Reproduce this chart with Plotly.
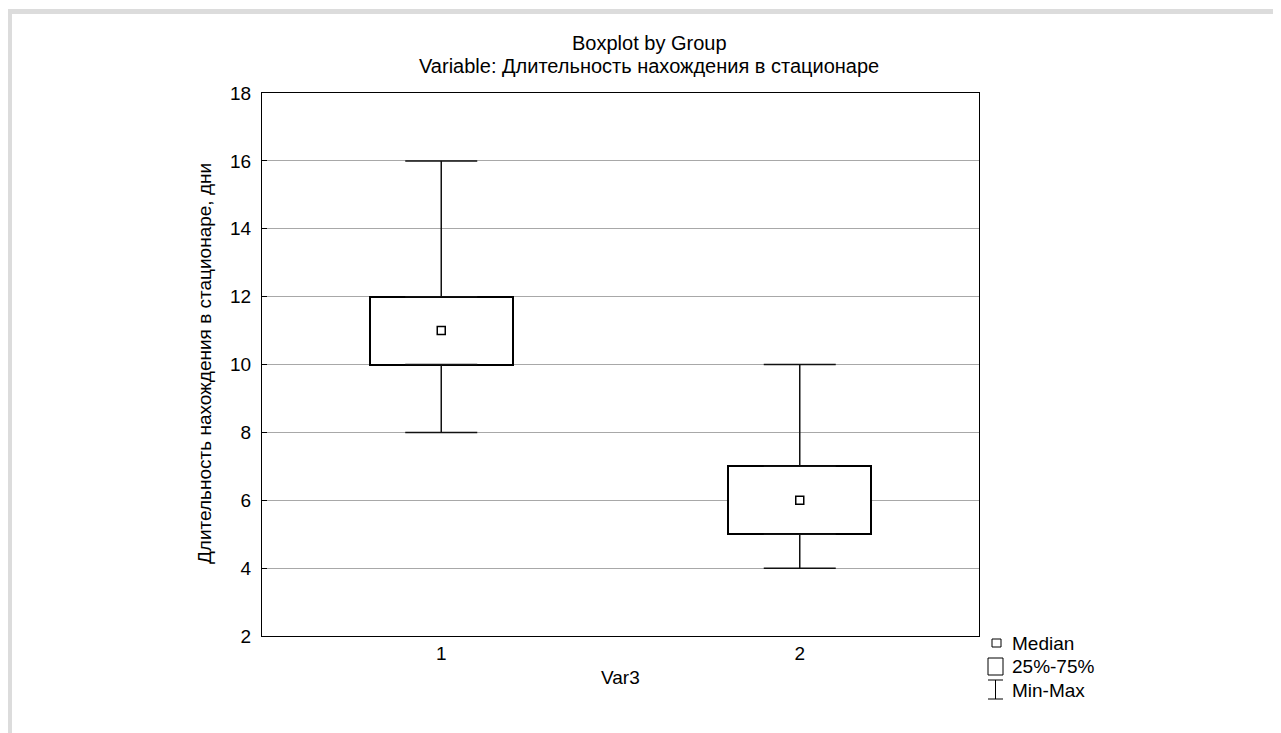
import plotly.graph_objects as go

# ---- data ----
groups = [1, 2]
group_labels = ["1", "2"]
medians = [11, 6]
q1 = [10, 5]
q3 = [12, 7]
mins = [8, 4]
maxs = [16, 10]
y_ticks = [2, 4, 6, 8, 10, 12, 14, 16, 18]

title1 = "Boxplot by Group"
title2 = "Variable: Длительность нахождения в стационаре"
y_title = "Длительность нахождения в стационаре, дни"
x_title = "Var3"
legend_items = ["Median", "25%-75%", "Min-Max"]

# ---- layout helpers (screen pixel -> paper) ----
SW, SH = 1281, 733          # browser window
OFF = 8                     # page body margin
W, H = SW - OFF, SH - OFF   # figure size
L, R, T, B = 262, 979, 93, 636   # plot area in screen pixels


def px(x):
    return (x - L) / (R - L)


def py(y):
    return (B - y) / (B - T)


FONT = "Liberation Sans, Arial, sans-serif"
FS = 19

fig = go.Figure()

# boxes (25%-75%)
fig.add_trace(go.Bar(
    x=groups,
    y=[b - a for a, b in zip(q1, q3)],
    base=q1,
    width=0.4,
    marker=dict(color="white", line=dict(color="black", width=2)),
    hoverinfo="skip",
    showlegend=False,
))

# upper whiskers
fig.add_trace(go.Scatter(
    x=groups, y=q3, mode="markers",
    marker=dict(size=1, opacity=0),
    error_y=dict(type="data", symmetric=False,
                 array=[mx - b for mx, b in zip(maxs, q3)],
                 arrayminus=[0] * len(groups),
                 width=36, thickness=1.5, color="#111111"),
    hoverinfo="skip", showlegend=False,
))
# lower whiskers
fig.add_trace(go.Scatter(
    x=groups, y=q1, mode="markers",
    marker=dict(size=1, opacity=0),
    error_y=dict(type="data", symmetric=False,
                 array=[0] * len(groups),
                 arrayminus=[a - mn for a, mn in zip(q1, mins)],
                 width=36, thickness=1.5, color="#111111"),
    hoverinfo="skip", showlegend=False,
))
# medians
fig.add_trace(go.Scatter(
    x=groups, y=medians, mode="markers",
    marker=dict(symbol="square", size=8, color="white",
                line=dict(color="black", width=1.5)),
    showlegend=False,
))

shapes = []
# gray outer frame
GRAY = "#dcdcdc"
shapes.append(dict(type="rect", xref="paper", yref="paper",
                   x0=px(OFF), x1=px(SW + 5), y0=py(9), y1=py(14),
                   fillcolor=GRAY, line=dict(width=0), layer="below"))
shapes.append(dict(type="rect", xref="paper", yref="paper",
                   x0=px(OFF), x1=px(12), y0=py(9), y1=py(SH + 5),
                   fillcolor=GRAY, line=dict(width=0), layer="below"))

# legend icons
shapes.append(dict(type="rect", xref="paper", yref="paper",
                   x0=px(992), x1=px(1001), y0=py(639), y1=py(647),
                   fillcolor="white", line=dict(color="black", width=1)))
shapes.append(dict(type="rect", xref="paper", yref="paper",
                   x0=px(988), x1=px(1003), y0=py(658), y1=py(675),
                   fillcolor="white", line=dict(color="black", width=1)))
shapes.append(dict(type="line", xref="paper", yref="paper",
                   x0=px(995.5), x1=px(995.5), y0=py(680), y1=py(699),
                   line=dict(color="black", width=1)))
shapes.append(dict(type="line", xref="paper", yref="paper",
                   x0=px(988), x1=px(1003), y0=py(680), y1=py(680),
                   line=dict(color="black", width=1)))
shapes.append(dict(type="line", xref="paper", yref="paper",
                   x0=px(988), x1=px(1003), y0=py(699), y1=py(699),
                   line=dict(color="black", width=1)))

annotations = []
annotations.append(dict(text=title1, xref="paper", yref="paper",
                        x=px(649), y=py(43), xanchor="center", yanchor="middle",
                        showarrow=False, font=dict(size=20)))
annotations.append(dict(text=title2, xref="paper", yref="paper",
                        x=px(649), y=py(66), xanchor="center", yanchor="middle",
                        showarrow=False, font=dict(size=20)))
annotations.append(dict(text=y_title, xref="paper", yref="paper",
                        x=px(205), y=py(364), xanchor="center", yanchor="middle",
                        textangle=-90, showarrow=False, font=dict(size=FS)))
annotations.append(dict(text=x_title, xref="paper", yref="paper",
                        x=px(620), y=py(677), xanchor="center", yanchor="middle",
                        showarrow=False, font=dict(size=FS)))
for txt, yy in zip(legend_items, [643, 666, 690]):
    annotations.append(dict(text=txt, xref="paper", yref="paper",
                            x=px(1010), y=py(yy), xanchor="left", yanchor="middle",
                            showarrow=False, font=dict(size=FS)))

fig.update_layout(
    width=W, height=H,
    margin=dict(l=L - OFF, r=SW - R, t=T - OFF, b=SH - B, autoexpand=False),
    paper_bgcolor="white", plot_bgcolor="white",
    font=dict(family=FONT, size=FS, color="black"),
    shapes=shapes, annotations=annotations,
    bargap=0,
)
fig.update_xaxes(
    range=[0.5, 2.5], tickvals=groups, ticktext=group_labels,
    showgrid=False, zeroline=False,
    showline=True, mirror=True, linecolor="black", linewidth=1,
    ticks="", fixedrange=True,
)
fig.update_yaxes(
    range=[2, 18], tickvals=y_ticks,
    showgrid=True, gridcolor="#a8a8a8", gridwidth=1, zeroline=False,
    showline=True, mirror=True, linecolor="black", linewidth=1,
    ticks="inside", ticklen=5, tickcolor="black", ticklabelstandoff=6,
    fixedrange=True,
)

fig.write_html("out.html")
